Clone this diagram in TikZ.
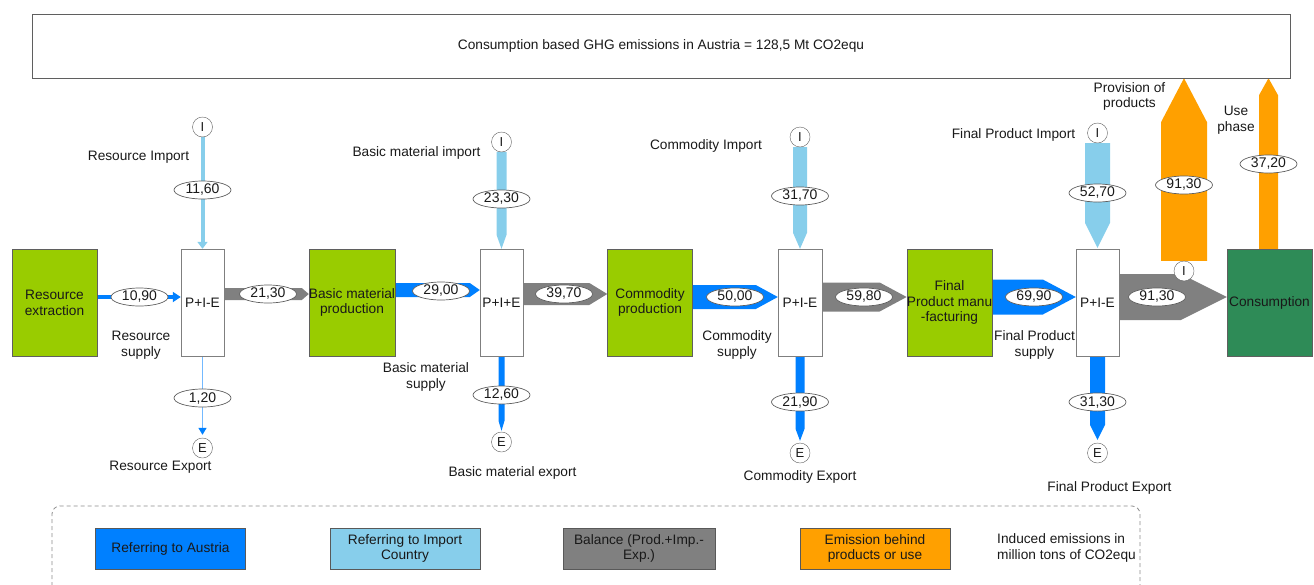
\documentclass[tikz,border=0pt]{standalone}
\usepackage{fontspec}
\setmainfont{Liberation Sans}
\usetikzlibrary{shapes.geometric,arrows.meta,backgrounds,calc}

\definecolor{austria}{RGB}{0,128,255}
\definecolor{importc}{RGB}{135,206,235}
\definecolor{balance}{RGB}{128,128,128}
\definecolor{emission}{RGB}{255,160,0}
\definecolor{stagegreen}{RGB}{153,204,0}
\definecolor{consgreen}{RGB}{46,139,87}
\definecolor{ink}{RGB}{25,25,25}
\definecolor{edge}{RGB}{95,95,95}

% horizontal band with a pointed end: colour, source, target, centre y, half width, head length
\newcommand\hflow[6]{%
  \fill[#1] let \p1=(#2.east), \p2=(#3.west) in
    (\x1,{#4-#5}) -- ({\x2-#6pt},{#4-#5}) -- (\x2,#4) --
    ({\x2-#6pt},{#4+#5}) -- (\x1,{#4+#5}) -- cycle;}
% downward band: colour, upper node, lower node, centre x, half width, head length, gap
\newcommand\dflow[7]{%
  \fill[#1] let \p1=(#2.south), \p2=(#3.north) in
    ({#4-#5},\y1) -- ({#4+#5},\y1) -- ({#4+#5},{\y2+#7pt+#6pt}) --
    (#4,{\y2+#7pt}) -- ({#4-#5},{\y2+#7pt+#6pt}) -- cycle;}
% upward band: colour, lower node, upper node, centre x, half width, head length
\newcommand\uflow[6]{%
  \fill[#1] let \p1=(#2.north), \p2=(#3.south) in
    ({#4-#5},\y1) -- ({#4+#5},\y1) -- ({#4+#5},{\y2-#6pt}) --
    (#4,\y2) -- ({#4-#5},{\y2-#6pt}) -- cycle;}

\begin{document}
\begin{tikzpicture}[x=1pt,y=-1pt,
  font=\fontsize{13.7}{15.8}\selectfont, text=ink,
  headline/.style={draw=edge, fill=white, minimum width=1258pt, minimum height=64pt, inner sep=0pt},
  stage/.style={draw=edge, fill=stagegreen, minimum width=85pt, minimum height=107pt, align=center, inner sep=0pt},
  pie/.style={draw=edge!80, fill=white, minimum width=43pt, minimum height=107pt, inner sep=0pt},
  port/.style={circle, draw=edge, fill=white, minimum size=20pt, inner sep=0pt, font=\fontsize{13}{15}\selectfont},
  val/.style={ellipse, draw=edge, line width=0.7pt, fill=white, minimum width=57pt, minimum height=18pt, inner sep=0pt, font=\fontsize{14}{16}\selectfont},
  lbl/.style={align=center, inner sep=0pt},
  key/.style={draw=black!65, minimum width=150pt, minimum height=41pt, align=center, inner sep=0pt}]

\useasboundingbox (0,0) rectangle (1314,584);

% headline
\node[headline] (title) at (661,46) {Consumption based GHG emissions in Austria = 128,5 Mt CO2equ};

% production stages
\node[stage] (r1) at (54.5,302.5) {Resource\\extraction};
\node[stage] (r2) at (352,302.5) {Basic material\\production};
\node[stage] (r3) at (650,302.5) {Commodity\\production};
\node[stage] (r4) at (949.5,302.5) {Final\\Product manu\\-facturing};
\node[stage, fill=consgreen] (cons) at (1269.5,302.5) {Consumption};

% balance boxes
\node[pie] (p1) at (202.5,302.5) {P+I-E};
\node[pie] (p2) at (501.5,302.5) {P+I+E};
\node[pie, minimum width=44pt] (p3) at (800,302.5) {P+I-E};
\node[pie] (p4) at (1097.5,302.5) {P+I-E};

% import / export ports
\node[port] (i1) at (202.5,127) {I};
\node[port] (e1) at (202.5,448) {E};
\node[port] (i2) at (501.5,142) {I};
\node[port] (e2) at (501.5,442) {E};
\node[port] (i3) at (800,137) {I};
\node[port] (e3) at (800,453) {E};
\node[port] (i4) at (1097.5,133) {I};
\node[port] (e4) at (1097.5,453) {E};
\node[port] (i5) at (1184,271) {I};

\begin{pgfonlayer}{background}
  % stage 1: thin flows
  \draw[importc, line width=4pt, -{Triangle[width=10pt,length=7pt]}] (i1) -- (p1);
  \draw[austria, line width=4pt, -{Triangle[width=10pt,length=8pt]}] ([yshift=5.5pt]r1.east) -- ([yshift=5.5pt]p1.west);
  \draw[austria!55, line width=1.5pt, -{Triangle[width=8pt,length=7pt,color=austria]}] (p1) -- ([yshift=3pt]e1.north);
  \hflow{balance}{p1}{r2}{294}{6}{7}
  % stage 2
  \dflow{importc}{i2}{p2}{501.5}{5}{14}{0}
  \hflow{austria}{r2}{p2}{290}{7}{10}
  \hflow{balance}{p2}{r3}{294}{11}{18}
  \dflow{austria}{p2}{e2}{501.5}{3}{10}{1}
  % stage 3
  \dflow{importc}{i3}{p3}{800}{7}{16}{0}
  \hflow{austria}{r3}{p3}{297}{12}{22}
  \hflow{balance}{p3}{r4}{297}{14.5}{27}
  \dflow{austria}{p3}{e3}{800}{4.5}{12}{2}
  % stage 4
  \dflow{importc}{i4}{p4}{1097.5}{12.5}{25}{1}
  \hflow{austria}{r4}{p4}{297}{17.5}{33}
  \hflow{balance}{p4}{cons}{297}{23}{46}
  \dflow{austria}{p4}{e4}{1097.5}{7.5}{15}{3}
  % emissions behind products and use
  \uflow{emission}{i5}{title}{1184}{23}{44}
  \uflow{emission}{cons}{title}{1268.5}{9.5}{17}
\end{pgfonlayer}

% flow values
\node[val] (v1) at (139.5,297) {10,90};
\node[val] (v2) at (202.5,190) {11,60};
\node[val] (v3) at (202.5,398) {1,20};
\node[val] (v4) at (268,294) {21,30};
\node[val] (v5) at (501.5,199) {23,30};
\node[val] (v6) at (441,291) {29,00};
\node[val] (v7) at (564,294) {39,70};
\node[val] (v8) at (501.5,395) {12,60};
\node[val] (v9) at (800,196) {31,70};
\node[val] (v10) at (735,297) {50,00};
\node[val] (v11) at (864,297) {59,80};
\node[val] (v12) at (800,402) {21,90};
\node[val] (v13) at (1097.5,193) {52,70};
\node[val] (v14) at (1034,297) {69,90};
\node[val] (v15) at (1157,297) {91,30};
\node[val] (v16) at (1097.5,402) {31,30};
\node[val] (v17) at (1184,185) {91,30};
\node[val] (v18) at (1268.5,164) {37,20};

% flow captions
\node[lbl] (t1) at (138.5,157) {Resource Import};
\node[lbl] (t2) at (141,345.5) {Resource\\supply};
\node[lbl] (t3) at (160.5,467) {Resource Export};
\node[lbl] (t4) at (416.5,153) {Basic material import};
\node[lbl] (t5) at (426,377) {Basic material\\supply};
\node[lbl] (t6) at (512.5,473) {Basic material export};
\node[lbl] (t7) at (706,146) {Commodity Import};
\node[lbl] (t8) at (737,345) {Commodity\\supply};
\node[lbl] (t9) at (800,477) {Commodity Export};
\node[lbl] (t10) at (1013.5,135) {Final Product Import};
\node[lbl] (t11) at (1034.5,345) {Final Product\\supply};
\node[lbl] (t12) at (1109.5,488) {Final Product Export};
\node[lbl] (t13) at (1129.5,96.5) {Provision of\\products};
\node[lbl] (t14) at (1236,120.5) {Use\\phase};

% legend
\draw[black!45, line width=0.8pt, dash pattern=on 4pt off 3pt, rounded corners=8pt] (52,600) -- (52,506) -- (1140,506) -- (1140,600);
\node[key, fill=austria] (k1) at (170.5,548.5) {Referring to Austria};
\node[key, fill=importc] (k2) at (405,548.5) {Referring to Import\\Country};
\node[key, fill=balance, minimum width=152pt] (k3) at (639,548.5) {Balance (Prod.+Imp.-\\Exp.)};
\node[key, fill=emission] (k4) at (875,548.5) {Emission behind\\products or use};
\node[lbl, anchor=west, align=left] (k5) at (997,548) {Induced emissions in\\million tons of CO2equ};
\end{tikzpicture}
\end{document}
